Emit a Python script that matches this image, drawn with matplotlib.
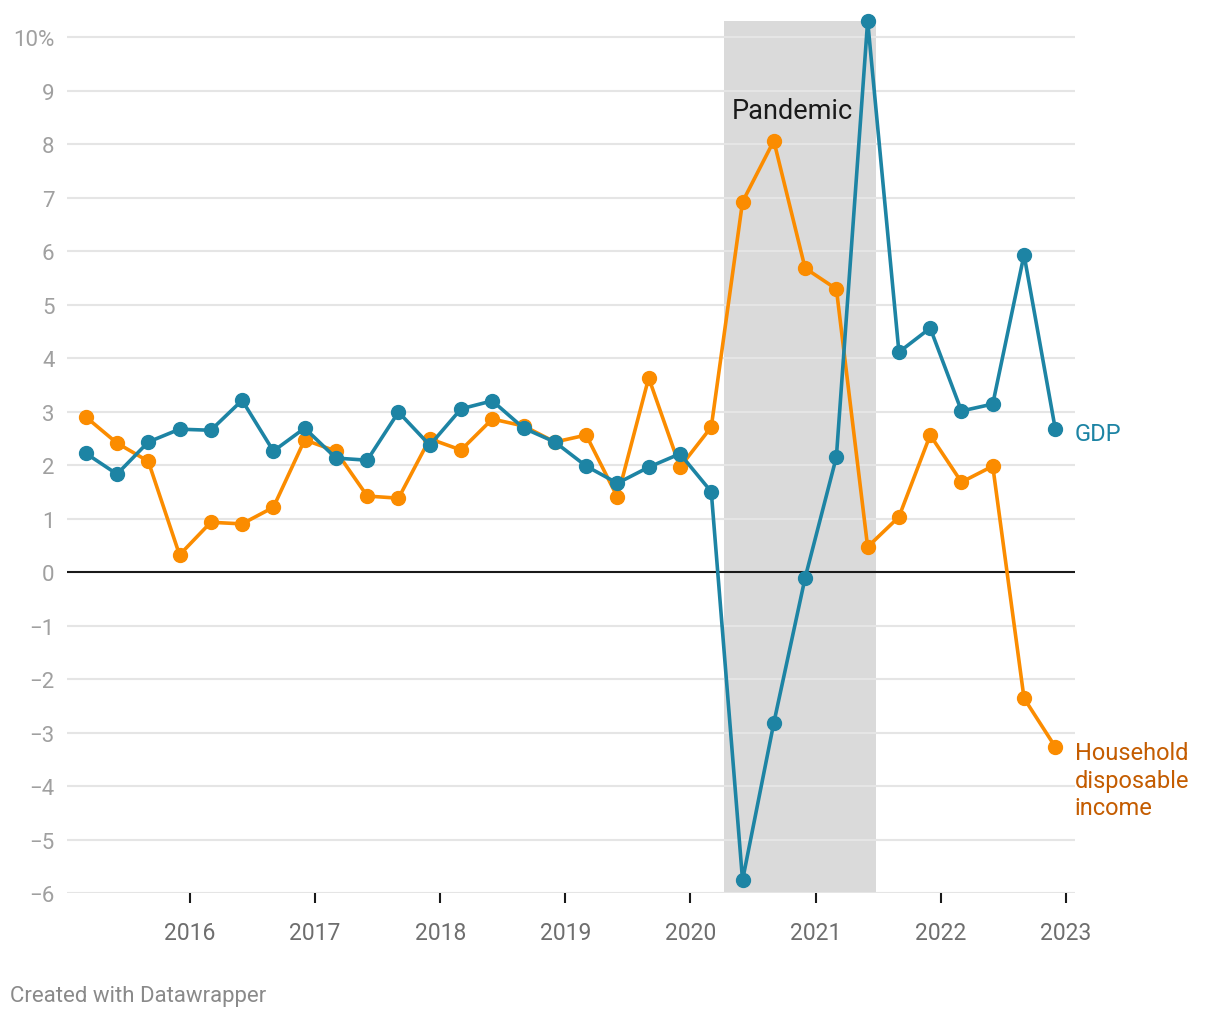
import numpy as np
import matplotlib
matplotlib.use("Agg")
import matplotlib.pyplot as plt

plt.rcParams['font.family'] = ['Roboto', 'DejaVu Sans']

# quarterly year-over-year growth, 2015 Q1 .. 2022 Q4
years = [2015, 2016, 2017, 2018, 2019, 2020, 2021, 2022]
gdp = [2.22, 1.83, 2.43, 2.67, 2.65, 3.21, 2.26, 2.69,
       2.13, 2.09, 2.99, 2.37, 3.05, 3.20, 2.69, 2.43,
       1.98, 1.66, 1.96, 2.21, 1.50, -5.76, -2.82, -0.11,
       2.15, 10.30, 4.11, 4.56, 3.01, 3.14, 5.93, 2.67]
income = [2.90, 2.41, 2.07, 0.32, 0.93, 0.90, 1.21, 2.47,
          2.26, 1.42, 1.38, 2.49, 2.28, 2.86, 2.73, 2.43,
          2.56, 1.40, 3.63, 1.96, 2.71, 6.92, 8.06, 5.68,
          5.29, 0.47, 1.03, 2.56, 1.68, 1.98, -2.36, -3.27]
pandemic = (2020.27, 2021.485)
yticks = [10, 9, 8, 7, 6, 5, 4, 3, 2, 1, 0, -1, -2, -3, -4, -5, -6]
xticks = [2016, 2017, 2018, 2019, 2020, 2021, 2022, 2023]

# quarter dates (last month of each quarter) as decimal years
x = np.array([y + (m - 1) / 12 for y in years for m in (3, 6, 9, 12)])

GDP_C = '#1d84a4'
INC_C = '#fb8c00'
INC_LBL = '#c45c00'

W, H = 1220, 1020
fig = plt.figure(figsize=(W / 100, H / 100), dpi=100)
ax = fig.add_axes([67 / W, 1 - 894 / H, (1075 - 67) / W, (894 - 22) / H])

ax.set_xlim(2015.017, 2023.074)
ax.set_ylim(-6, 10.3)

ax.axvspan(*pandemic, color='#dadada', lw=0, zorder=0)
for v in yticks:
    if v != 0:
        ax.axhline(v, color='#e5e5e5', lw=1.5, zorder=0.5)
ax.axhline(0, color='#1a1a1a', lw=1.5, zorder=1)

ax.plot(x, income, color=INC_C, lw=2.6, marker='o', ms=10, zorder=3, clip_on=False)
ax.plot(x, gdp, color=GDP_C, lw=2.6, marker='o', ms=10, zorder=4, clip_on=False)

ax.text(2020.33, 8.62, 'Pandemic', fontsize=19.5, color='#1a1a1a', va='center', ha='left')

ax.annotate('GDP', xy=(x[-1], gdp[-1]), xytext=(14, -3), textcoords='offset points',
            color=GDP_C, fontsize=17, va='center', ha='left')
ax.annotate('Household\ndisposable\nincome', xy=(x[-1], income[-1]), xytext=(14, 4),
            textcoords='offset points', color=INC_LBL, fontsize=17, va='top', ha='left',
            linespacing=1.25)

ax.set_yticks(yticks)
ax.set_yticklabels(['10%' if v == 10 else str(v).replace('-', '\u2212') for v in yticks])
ax.set_xticks(xticks)
ax.set_xticklabels([str(v) for v in xticks])
ax.tick_params(axis='y', length=0, pad=9, labelsize=16, labelcolor='#a0a0a0')
ax.tick_params(axis='x', length=7, width=1.5, color='#1a1a1a', pad=13,
               labelsize=16.5, labelcolor='#6e6e6e')
for s in ax.spines.values():
    s.set_visible(False)

fig.text(10 / W, 1 - 997 / H, 'Created with Datawrapper', fontsize=16,
         color='#8a8a8a', va='center', ha='left')

fig.savefig('out.png', dpi=100)
